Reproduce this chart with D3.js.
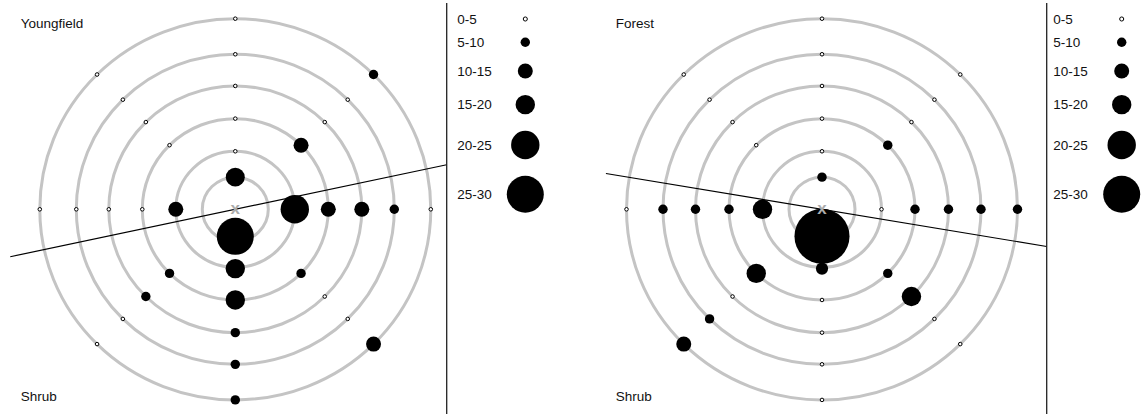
<!DOCTYPE html>
<html>
<head>
<meta charset="utf-8">
<script src="https://cdn.jsdelivr.net/npm/d3@7"></script>
<style>
body { margin: 0; background: #fff; }
text { font-family: "Liberation Sans", Arial, sans-serif; }
</style>
</head>
<body>
<svg id="chart" width="1144" height="418"></svg>
<script>
// two sites, counts along 8 transects at 6 distances (null = no sample)
var sites = ["Youngfield", "Forest"];
var lowerLabel = "Shrub";
var directions = ["N", "NE", "E", "SE", "S", "SW", "W", "NW"];
var bearings = [90, 45, 0, -45, -90, -135, 180, 135];
var rings = [1, 2, 3, 4, 5, 6];
// the first southern sample sits a bit inside ring 1
var southRings = [0.84, 2.04, 3, 4, 5, 6];

var youngfieldCounts = [
	[17, 2, 2, 2, 2, 2],
	[null, null, 12.5, 2, 2, 7.5],
	[null, 22.5, 12.5, 12.5, 7.5, 2],
	[null, null, 7.5, 2, 2, 12.5],
	[27.5, 17.5, 17.5, 7.5, 7.5, 7.5],
	[null, null, 7.5, 7.5, 2, 2],
	[null, 12.5, 2, 2, 2, 2],
	[null, null, 2, 2, 2, 2]
];
var forestCounts = [
	[7.5, 2, 2, 2, 2, 2],
	[null, null, 7.5, 2, 2, 2],
	[null, 2, 7.5, 7.5, 7.5, 7.5],
	[null, null, 7.5, 17.5, 2, 2],
	[38, 10, 2, 2, 2, 2],
	[null, null, 17.5, 2, 7.5, 12.5],
	[null, 17.5, 7.5, 7.5, 7.5, 2],
	[null, null, 2, 2, 2, 2]
];
// orientation of the edge line, degrees
var lineAngles = [11.9, -9.4];

var legendLabels = ["0-5", "5-10", "10-15", "15-20", "20-25", "25-30"];
var legendValues = [2.5, 7.5, 12.5, 17.5, 22.5, 27.5];

var counts = [youngfieldCounts, forestCounts];

var panels = [
	{cx: 235.3, cy: 209.3, sep: 446.7, labelX: 20.7, legText: 457.3, legDot: 525.3, lineBack: 230},
	{cx: 822, cy: 209.3, sep: 1046.7, labelX: 615.7, legText: 1053.3, legDot: 1121.7, lineBack: 219}
];

var ringR = d3.scaleLinear().domain([0, 1, 2, 3, 4, 5, 6]).range([0, 33, 59.5, 93, 126.5, 159, 195.5]);
var yFactor = 0.975;
var size = d3.scaleLinear().domain(legendValues).range([2.05, 4.7, 7.5, 9.7, 14.2, 18.5]);

var svg = d3.select("#chart");

function dot(sel, v) {
	sel.attr("r", size(v))
		.attr("fill", v < 5 ? "#fff" : "#000")
		.attr("stroke", "#000")
		.attr("stroke-width", v < 5 ? 1 : 0);
}

sites.forEach(function(site, s) {
	var p = panels[s];
	var g = svg.append("g");

	// rings
	g.selectAll("ellipse").data(rings).enter().append("ellipse")
		.attr("cx", p.cx).attr("cy", p.cy)
		.attr("rx", function(d) { return ringR(d); })
		.attr("ry", function(d) { return ringR(d) * yFactor; })
		.attr("fill", "none")
		.attr("stroke", "#c4c4c4")
		.attr("stroke-width", 3);

	// edge line through the centre
	var a = lineAngles[s] * Math.PI / 180;
	var t = (p.sep - p.cx) / Math.cos(a);
	g.append("line")
		.attr("x1", p.cx - p.lineBack * Math.cos(a))
		.attr("y1", p.cy + p.lineBack * Math.sin(a))
		.attr("x2", p.sep)
		.attr("y2", p.cy - t * Math.sin(a))
		.attr("stroke", "#000")
		.attr("stroke-width", 1.2);

	// points
	var pts = [];
	counts[s].forEach(function(row, d) {
		var ringList = directions[d] == "S" ? southRings : rings;
		row.forEach(function(v, k) {
			if (v == null) return;
			var b = bearings[d] * Math.PI / 180;
			var r = ringR(ringList[k]);
			pts.push({
				x: p.cx + r * Math.cos(b),
				y: p.cy - r * yFactor * Math.sin(b),
				v: v
			});
		});
	});
	g.selectAll("circle.pt").data(pts).enter().append("circle")
		.attr("class", "pt")
		.attr("cx", function(d) { return d.x; })
		.attr("cy", function(d) { return d.y; })
		.each(function(d) { dot(d3.select(this), d.v); });

	// centre marker
	g.append("text")
		.attr("x", p.cx).attr("y", p.cy + 4.8)
		.attr("text-anchor", "middle")
		.attr("font-size", 17)
		.attr("font-weight", "bold")
		.attr("fill", "#acacac")
		.text("x");

	g.append("text").attr("x", p.labelX).attr("y", 28)
		.attr("font-size", 13.5).attr("fill", "#111").text(site);
	g.append("text").attr("x", p.labelX).attr("y", 401)
		.attr("font-size", 13.5).attr("fill", "#111").text(lowerLabel);

	// separator
	g.append("line")
		.attr("x1", p.sep).attr("x2", p.sep)
		.attr("y1", 3).attr("y2", 414)
		.attr("stroke", "#222")
		.attr("stroke-width", 1.3);

	// legend
	var ly = [];
	var y = 19;
	legendValues.forEach(function(v, i) {
		if (i > 0) y += size(legendValues[i - 1]) + size(v) + 16.5;
		ly.push(y);
	});
	var leg = g.selectAll("g.leg").data(legendLabels).enter().append("g").attr("class", "leg");
	leg.append("text")
		.attr("x", p.legText)
		.attr("y", function(d, i) { return ly[i] + 4.8; })
		.attr("font-size", 13.5)
		.attr("fill", "#111")
		.text(function(d) { return d; });
	leg.append("circle")
		.attr("cx", p.legDot)
		.attr("cy", function(d, i) { return ly[i]; })
		.each(function(d, i) { dot(d3.select(this), legendValues[i]); });
});
</script>
</body>
</html>
